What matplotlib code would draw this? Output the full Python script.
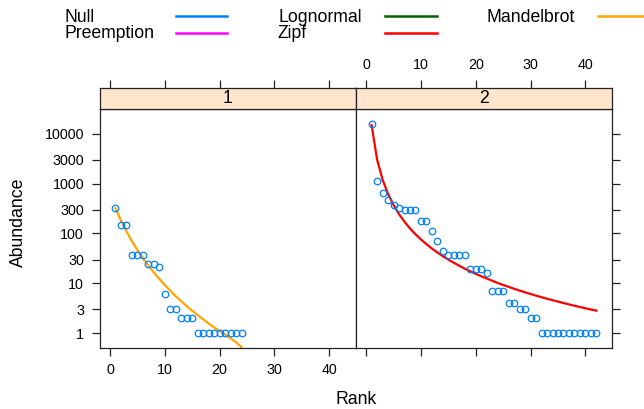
import matplotlib
matplotlib.use("Agg")
import matplotlib.pyplot as plt
from matplotlib.lines import Line2D
import numpy as np

plt.rcParams['font.family'] = ['Liberation Sans', 'DejaVu Sans']

# ---- data ----
panel_labels = ["1", "2"]
abund1 = [330, 150, 150, 37, 37, 37, 25, 24, 21, 6, 3, 3, 2, 2, 2,
          1, 1, 1, 1, 1, 1, 1, 1, 1]
mandelbrot1 = [320, 182, 111, 70.6, 46.9, 32.3, 22.9, 16.6, 12.3, 9.27, 7.13, 5.55,
               4.38, 3.50, 2.83, 2.31, 1.90, 1.57, 1.31, 1.11, 0.94, 0.79, 0.66, 0.53]
abund2 = [15600, 1150, 660, 470, 380, 320, 290, 290, 290, 180, 180, 110, 72, 45,
          37, 37, 37, 37, 19, 19, 19, 16, 7, 7, 7, 4, 4, 3, 3, 2, 2,
          1, 1, 1, 1, 1, 1, 1, 1, 1, 1, 1]
zipf2 = [14791, 3024, 1195, 618, 371, 244, 172, 126, 96.6, 75.9, 61.0, 49.9, 41.6,
         35.1, 30.0, 25.9, 22.5, 19.7, 17.4, 15.5, 13.9, 12.5, 11.3, 10.2, 9.30,
         8.51, 7.80, 7.18, 6.62, 6.13, 5.68, 5.29, 4.93, 4.60, 4.31, 4.04, 3.79,
         3.57, 3.36, 3.17, 3.00, 2.84]
legend_names = ["Null", "Preemption", "Lognormal", "Zipf", "Mandelbrot"]
legend_colors = ["#0080FF", "#FF00FF", "#006400", "#FF0000", "#FFA500"]
yticks = [1, 3, 10, 30, 100, 300, 1000, 3000, 10000]
xticks = [0, 10, 20, 30, 40]

FW, FH = 644, 409
fig = plt.figure(figsize=(FW / 100, FH / 100), dpi=100)

left = 99.7 / FW
pw = 256.2 / FW
bot = (FH - 347.6) / FH
ph = 238.3 / FH
sb = (FH - 109.3) / FH
sh = 21.8 / FH

xlim = (-1.87, 44.87)
ylim = (10 ** -0.287, 10 ** 4.489)
TICK_FS = 10.3
LAB_FS = 12.7
tlen = 5.8
tpad = 5.5

series = [
    (abund1, mandelbrot1, "#FFA500"),
    (abund2, zipf2, "#FF0000"),
]

for i, (ab, fit, col) in enumerate(series):
    ax = fig.add_axes([left + i * pw, bot, pw, ph])
    ranks = np.arange(1, len(ab) + 1)
    ax.plot(ranks, fit, color=col, lw=1.6, zorder=2, clip_on=True)
    ax.plot(ranks, ab, linestyle='none', marker='o', markersize=4.7,
            markerfacecolor='none', markeredgecolor='#0080FF',
            markeredgewidth=0.9, zorder=3)
    ax.set_yscale('log')
    ax.set_xlim(*xlim)
    ax.set_ylim(*ylim)
    ax.set_xticks(xticks)
    ax.set_yticks(yticks)
    ax.yaxis.set_minor_locator(matplotlib.ticker.NullLocator())
    ax.set_yticklabels([str(v) for v in yticks])
    for sp in ax.spines.values():
        sp.set_linewidth(0.9)
        sp.set_color('#222222')
    ax.tick_params(axis='both', direction='out', length=tlen, width=0.9,
                   color='#222222', labelsize=TICK_FS, pad=tpad)
    if i == 0:
        ax.tick_params(axis='y', left=True, right=False, labelleft=True)
        ax.tick_params(axis='x', bottom=True, labelbottom=True)
    else:
        ax.tick_params(axis='y', left=False, right=True, labelleft=False,
                       labelright=False)
        ax.tick_params(axis='x', bottom=True, labelbottom=False)

    # strip
    sx = fig.add_axes([left + i * pw, sb, pw, sh])
    sx.set_facecolor('#FFE5CC')
    sx.set_xlim(*xlim)
    sx.set_ylim(0, 1)
    sx.set_yticks([])
    sx.set_xticks(xticks)
    sx.xaxis.set_ticks_position('top')
    sx.tick_params(axis='x', direction='out', length=tlen, width=0.9,
                   color='#222222', labelsize=TICK_FS, pad=tpad,
                   labeltop=(i == 1), labelbottom=False, bottom=False)
    for sp in sx.spines.values():
        sp.set_linewidth(0.9)
        sp.set_color('#222222')
    sx.text(0.5, 0.5, panel_labels[i], transform=sx.transAxes, ha='center',
            va='center', fontsize=LAB_FS)

fig.text(18 / FW, 1 - 222 / FH, "Abundance", rotation=90, ha='center',
         va='center', fontsize=LAB_FS)
fig.text(355.9 / FW, 1 - 400 / FH, "Rank", ha='center', va='center',
         fontsize=LAB_FS)

# legend (3 columns, filled column-wise)
col_text_x = [64, 278, 486]
col_line_x = [(176, 227), (385, 437), (598, 650)]
row_text_y = [17.5, 34.0]
row_line_y = [15.7, 33.0]
for k, (name, c) in enumerate(zip(legend_names, legend_colors)):
    ci, ri = k // 2, k % 2
    ty = 1 - row_text_y[ri] / FH
    ly = 1 - row_line_y[ri] / FH
    fig.text(col_text_x[ci] / FW, ty, name, ha='left', va='center',
             fontsize=LAB_FS)
    x0, x1 = col_line_x[ci]
    fig.add_artist(Line2D([x0 / FW, x1 / FW], [ly, ly], color=c, lw=1.8,
                          transform=fig.transFigure))

fig.savefig("out.png", dpi=100)
